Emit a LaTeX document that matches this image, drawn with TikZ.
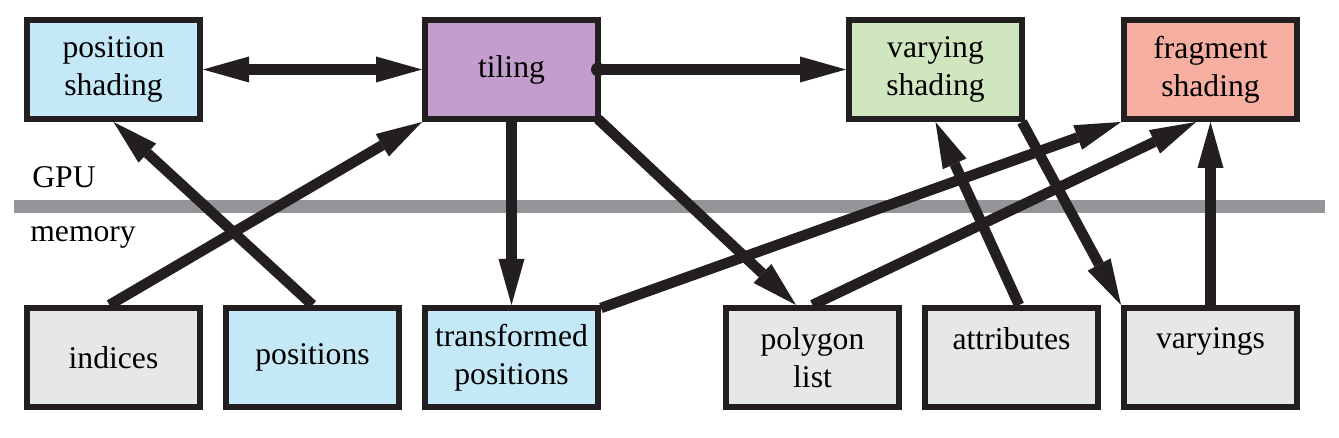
\documentclass[tikz,border=0pt]{standalone}
\usepackage{fontspec}
\newfontfamily\boxfont{Liberation Serif}
\usetikzlibrary{arrows.meta,positioning}
\definecolor{boxline}{HTML}{231F20}
\definecolor{posblue}{HTML}{C5E8F6}
\definecolor{tilepurple}{HTML}{C39DCB}
\definecolor{vargreen}{HTML}{D0E6BE}
\definecolor{fragred}{HTML}{F5AE9F}
\definecolor{memgray}{HTML}{E6E7E8}
\definecolor{bargray}{HTML}{939598}
\tikzstyle{box}=[
	draw=boxline,
	line width=0.12cm,
	minimum width=3.46cm,
	minimum height=1.98cm,
	inner sep=0pt,
	align=center,
	font=\boxfont\fontsize{18pt}{21.6pt}\selectfont,
	node distance=0.4cm
]
\tikzstyle{membox}=[
	box,
	fill=memgray
]
\tikzstyle{layertext}=[
	anchor=base west,
	inner sep=0pt,
	font=\boxfont\fontsize{18pt}{21.6pt}\selectfont
]
\tikzstyle{arrow}=[
	draw=boxline,
	line width=0.21cm,
	-{Triangle[length=0.92cm,width=0.52cm,line width=0pt]}
]
\tikzstyle{biarrow}=[
	arrow,
	{Triangle[length=0.92cm,width=0.52cm,line width=0pt]}-{Triangle[length=0.92cm,width=0.52cm,line width=0pt]}
]
\begin{document}
\begin{tikzpicture}
\useasboundingbox (0,0) rectangle (26.78,-8.76);

% GPU / memory divide
\fill[bargray] (0.28,-4.0) rectangle (26.5,-4.26);
\node[layertext] (gpu) at (0.64,-3.76) {GPU};
\node[layertext] (memory) at (0.6,-4.84) {memory};

\node[box, fill=posblue] (posshade) at (2.27,-1.39) {position\\shading};
\node[membox, below=3.66cm of posshade] (indices) {indices};
\node[box, fill=posblue, right=of indices] (positions) {positions};
\node[box, fill=posblue, right=of positions] (transformed) {transformed\\positions};
\node[box, fill=tilepurple, above=3.66cm of transformed] (tiling) {tiling};
\node[membox, right=2.44cm of transformed] (polygon) {polygon\\list};
\node[membox, right=of polygon] (attributes) {attributes\\~};
\node[membox, right=of attributes] (varyings) {varyings\\~};
\node[box, fill=fragred, above=3.66cm of varyings] (fragshade) {fragment\\shading};
\node[box, fill=vargreen, left=1.92cm of fragshade] (varshade) {varying\\shading};

\draw[biarrow] (posshade) -- (tiling);
\fill[boxline] ([xshift=-0.06cm]tiling.east) circle (0.14cm);
\draw[arrow] (tiling) -- (varshade);
\draw[arrow] (tiling) -- (transformed);
\draw[arrow] ([shift={(-0.06cm,0.06cm)}]tiling.south east) -- ([xshift=-0.33cm]polygon.north);
\draw[arrow] ([xshift=-0.08cm]indices.north) -- (tiling.south west);
\draw[arrow] (positions.north) -- (posshade.south);
\draw[arrow] ([yshift=-0.06cm]transformed.north east) -- (fragshade.south west);
\draw[arrow] (polygon.north) -- ([xshift=-0.29cm]fragshade.south);
\draw[arrow] ([xshift=0.15cm]attributes.north) -- (varshade.south);
\draw[arrow] ([xshift=-0.06cm]varshade.south east) -- (varyings.north west);
\draw[arrow] (varyings) -- (fragshade);
\end{tikzpicture}
\end{document}
